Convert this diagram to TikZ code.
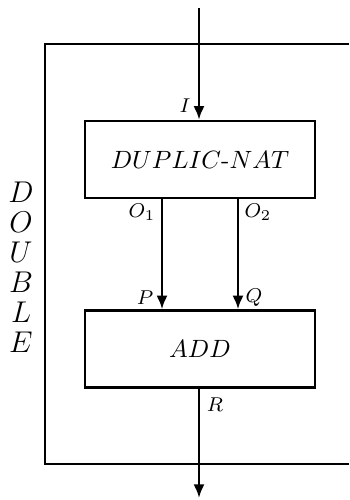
\documentclass[tikz,border=0pt]{standalone}
\usepackage{amsmath,amssymb}
\usepackage{tikz}
\usetikzlibrary{calc,arrows.meta,positioning}

\begin{document}
\begin{tikzpicture}[x=0.4pt, y=-0.4pt, line width=1pt,
 blk/.style={draw, minimum width=92pt, minimum height=30.8pt, inner sep=0pt, font=\normalsize},
 flow/.style={-{Latex[length=5.5pt,width=4.5pt]}},
 lbl/.style={font=\footnotesize, inner sep=0pt}]
 \useasboundingbox (0,0) rectangle (349,500);

 % Outer box (open to the right)
 \draw (349,44) -- (45,44) -- (45,464) -- (349,464);
 \foreach \c [count=\i] in {D,O,U,B,L,E}
 \node[font=\large, inner sep=0pt] (d\i) at (21,{162+30*\i}) {$\c$};

 % Blocks
 \node[blk] (dup) at (200,159.5) {$DUPLIC\text{-}NAT$};
 \node[blk] (add) at (200,349) {$ADD$};

 % End points and taps
 \coordinate (in) at (199,8);
 \coordinate (out) at (199,498);
 \coordinate (o1) at (dup.south -| 162,0);
 \coordinate (o2) at (dup.south -| 238,0);
 \coordinate (p) at (add.north -| 162,0);
 \coordinate (q) at (add.north -| 238,0);

 % Connectors
 \draw[flow] (in) -- (in |- dup.north);
 \draw[flow] (o1) -- (p);
 \draw[flow] (o2) -- (q);
 \draw[flow] (out |- add.south) -- (out);

 % Port labels
 \node[lbl] (li) at (185,106) {$I$};
 \node[lbl] (lo1) at (142,212) {$O_1$};
 \node[lbl] (lo2) at (258,212) {$O_2$};
 \node[lbl] (lp) at (145,298) {$P$};
 \node[lbl] (lq) at (254,298) {$Q$};
 \node[lbl] (lr) at (215,405) {$R$};
\end{tikzpicture}
\end{document}
